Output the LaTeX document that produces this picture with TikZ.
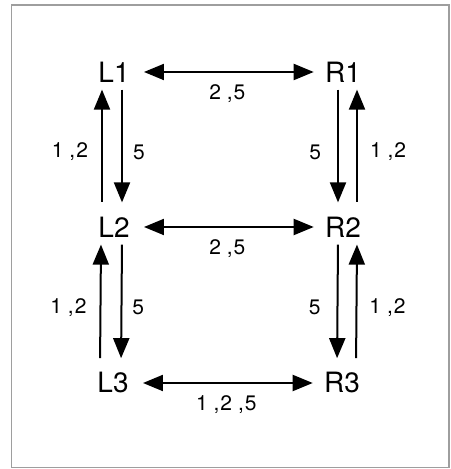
\documentclass[tikz,border=0pt]{standalone}
\usepackage{fontspec}
\setmainfont{TeX Gyre Heros}
\usepackage{tikz}
\usetikzlibrary{arrows.meta}

\begin{document}
\begin{tikzpicture}[
    x=0.5pt,y=0.5pt,
    state/.style={inner sep=2pt,font=\fontsize{14}{16}\selectfont},
    tag/.style={inner sep=0pt,font=\fontsize{10.5}{12}\selectfont},
    link/.style={{Triangle[length=10pt,width=8pt]}-{Triangle[length=10pt,width=8pt]},
      line width=1pt,shorten <=5pt,shorten >=3.5pt},
    dnarrow/.style={-{Triangle[length=10pt,width=8pt]},line width=1pt,
      shorten <=1.5pt,shorten >=5pt},
    uparrow/.style={{Triangle[length=10pt,width=8pt]}-,line width=1pt,
      shorten <=1.5pt,shorten >=5pt}
]
\useasboundingbox (0,0) rectangle (450,469);
\draw[black!38,line width=0.6pt] (11.5,1.5) rectangle (449,464);

\node[state] (L1) at (114,397) {L1};
\node[state] (R1) at (343,397) {R1};
\node[state] (L2) at (114,242) {L2};
\node[state] (R2) at (343,242) {R2};
\node[state] (L3) at (113,86) {L3};
\node[state] (R3) at (342,86) {R3};

\draw[link] (L1.east) -- node[tag,midway,below=6pt] {2 ,\kern.5pt5} (R1.west);
\draw[link] (L2.east) -- node[tag,midway,below=6pt] {2 ,\kern.5pt5} (R2.west);
\draw[link] (L3.east) -- node[tag,midway,below=6pt] {1 ,\kern.5pt2 ,\kern.5pt5} (R3.west);

\draw[uparrow] ([xshift=-6pt]L1.south) -- node[tag,pos=.52,left=6.5pt] {1 ,\kern.5pt2} ([xshift=-6pt]L2.north);
\draw[dnarrow] ([xshift=4pt]L1.south) -- node[tag,pos=.52,right=5pt] {5} ([xshift=4pt]L2.north);
\draw[uparrow] ([xshift=-6.5pt]L2.south) -- node[tag,pos=.52,left=6.5pt] {1 ,\kern.5pt2} ([xshift=-6.5pt]L3.north);
\draw[dnarrow] ([xshift=4pt]L2.south) -- node[tag,pos=.52,right=5pt] {5} ([xshift=4pt]L3.north);

\draw[dnarrow] ([xshift=-2.5pt]R1.south) -- node[tag,pos=.52,left=8pt] {5} ([xshift=-2.5pt]R2.north);
\draw[uparrow] ([xshift=7pt]R1.south) -- node[tag,pos=.52,right=6pt] {1 ,\kern.5pt2} ([xshift=7pt]R2.north);
\draw[dnarrow] ([xshift=-2.5pt]R2.south) -- node[tag,pos=.52,left=8pt] {5} ([xshift=-2.5pt]R3.north);
\draw[uparrow] ([xshift=7pt]R2.south) -- node[tag,pos=.52,right=6pt] {1 ,\kern.5pt2} ([xshift=7pt]R3.north);
\end{tikzpicture}
\end{document}
